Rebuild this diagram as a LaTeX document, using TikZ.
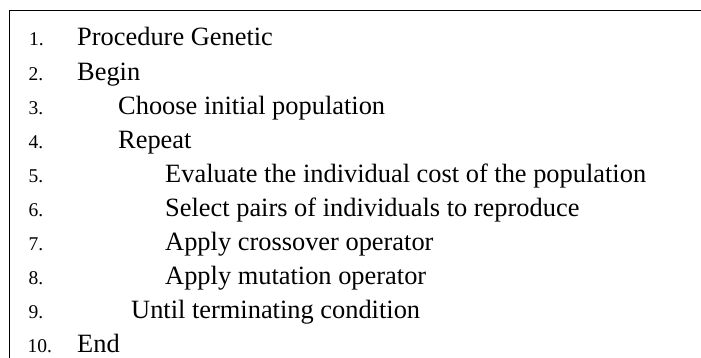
\documentclass[tikz,border=0pt]{standalone}
\usepackage{fontspec}
\setmainfont{Liberation Serif}
\begin{document}
\begin{tikzpicture}[x=1pt,y=1pt,
  num/.style={anchor=base west,inner sep=0pt,font=\fontsize{19.5}{19.5}\selectfont},
  txt/.style={anchor=base west,inner sep=0pt,font=\fontsize{26.4}{26.4}\selectfont},
  frame/.style={draw=black,line width=1pt}]
\useasboundingbox (0,0) rectangle (701,-358);
\coordinate (bl) at (9,-358);
\coordinate (tl) at (9,-11);
\coordinate (tr) at (701,-11);
\draw[frame] (bl) -- (tl) -- (tr);
\node[num] (n1) at (29,-46) {1.};
\node[num] (n2) at (28.5,-80.1) {2.};
\node[num] (n3) at (28.5,-114.2) {3.};
\node[num] (n4) at (28.5,-148.3) {4.};
\node[num] (n5) at (28.5,-182.4) {5.};
\node[num] (n6) at (28.5,-216.5) {6.};
\node[num] (n7) at (28.5,-250.6) {7.};
\node[num] (n8) at (28.5,-284.7) {8.};
\node[num] (n9) at (28.5,-318.8) {9.};
\node[num] (n10) at (27.5,-352.9) {10.};
\node[txt] (t1) at (77,-46) {Procedure Genetic};
\node[txt] (t2) at (77,-80.1) {Begin};
\node[txt] (t3) at (118,-114.2) {Choose initial population};
\node[txt] (t4) at (118,-148.3) {Repeat};
\node[txt] (t5) at (165,-182.4) {Evaluate the individual cost of the population};
\node[txt] (t6) at (165,-216.5) {Select pairs of individuals to reproduce};
\node[txt] (t7) at (165,-250.6) {Apply crossover operator};
\node[txt] (t8) at (165,-284.7) {Apply mutation operator};
\node[txt] (t9) at (131,-318.8) {Until terminating condition};
\node[txt] (t10) at (77,-352.9) {End};
\end{tikzpicture}
\end{document}
